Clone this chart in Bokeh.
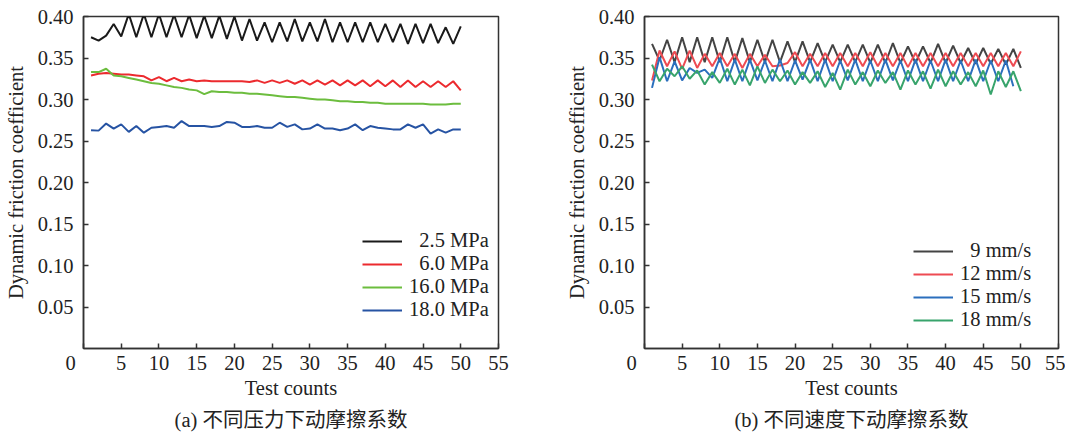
from bokeh.plotting import figure
from bokeh.layouts import row
from bokeh.models import FixedTicker, PrintfTickFormatter, Legend, LegendItem, Title
from bokeh.embed import file_html
from bokeh.resources import INLINE

# ---------------- data ----------------
test_counts = list(range(1, 51))
test_counts_49 = list(range(1, 50))

x_ticks = [0, 5, 10, 15, 20, 25, 30, 35, 40, 45, 50, 55]
y_ticks = [0.05, 0.10, 0.15, 0.20, 0.25, 0.30, 0.35, 0.40]
origin_label = "0\u2003\u2005"   # the shared "0" at the corner, drawn left of x = 0

pressure_labels = ["\u20072.5 MPa", "\u20076.0 MPa", "16.0 MPa", "18.0 MPa"]
speed_labels = ["\u20079 mm/s", "12 mm/s", "15 mm/s", "18 mm/s"]

p_2_5 = [0.375, 0.371, 0.377, 0.391, 0.376, 0.403, 0.375, 0.403, 0.375, 0.403,
         0.375, 0.402, 0.375, 0.402, 0.374, 0.401, 0.374, 0.401, 0.373, 0.400,
         0.371, 0.397, 0.371, 0.393, 0.369, 0.393, 0.370, 0.397, 0.370, 0.393,
         0.370, 0.397, 0.369, 0.393, 0.369, 0.393, 0.369, 0.393, 0.369, 0.391,
         0.369, 0.391, 0.367, 0.391, 0.368, 0.391, 0.368, 0.387, 0.367, 0.388]
p_6_0 = [0.329, 0.331, 0.332, 0.331, 0.330, 0.330, 0.329, 0.328, 0.323, 0.327,
         0.322, 0.326, 0.322, 0.324, 0.322, 0.323, 0.322, 0.322, 0.322, 0.322,
         0.322, 0.321, 0.323, 0.320, 0.323, 0.320, 0.323, 0.319, 0.323, 0.318,
         0.323, 0.318, 0.323, 0.317, 0.323, 0.317, 0.323, 0.316, 0.323, 0.316,
         0.323, 0.315, 0.323, 0.315, 0.322, 0.315, 0.322, 0.315, 0.322, 0.311]
p_16_0 = [0.333, 0.333, 0.337, 0.329, 0.328, 0.326, 0.324, 0.322, 0.320, 0.319,
          0.317, 0.315, 0.314, 0.312, 0.311, 0.3065, 0.310, 0.309, 0.309, 0.308,
          0.308, 0.307, 0.307, 0.306, 0.305, 0.304, 0.303, 0.303, 0.302, 0.301,
          0.300, 0.300, 0.299, 0.298, 0.298, 0.297, 0.297, 0.296, 0.296, 0.295,
          0.295, 0.295, 0.295, 0.295, 0.295, 0.294, 0.294, 0.294, 0.295, 0.295]
p_18_0 = [0.263, 0.2625, 0.271, 0.265, 0.270, 0.261, 0.268, 0.260, 0.266, 0.267,
          0.268, 0.266, 0.274, 0.268, 0.268, 0.268, 0.267, 0.268, 0.273, 0.272,
          0.267, 0.267, 0.268, 0.266, 0.266, 0.272, 0.267, 0.270, 0.264, 0.265,
          0.270, 0.265, 0.265, 0.263, 0.265, 0.270, 0.263, 0.268, 0.266, 0.265,
          0.264, 0.264, 0.270, 0.266, 0.270, 0.259, 0.264, 0.260, 0.264, 0.264]

v_9 = [0.367, 0.347, 0.372, 0.345, 0.375, 0.345, 0.375, 0.345, 0.375, 0.345,
       0.375, 0.345, 0.374, 0.345, 0.372, 0.345, 0.372, 0.345, 0.370, 0.345,
       0.370, 0.345, 0.368, 0.345, 0.366, 0.345, 0.366, 0.345, 0.366, 0.344,
       0.366, 0.344, 0.368, 0.344, 0.364, 0.344, 0.364, 0.344, 0.367, 0.344,
       0.365, 0.344, 0.362, 0.343, 0.362, 0.343, 0.361, 0.342, 0.361, 0.338]
v_12 = [0.323, 0.359, 0.340, 0.358, 0.337, 0.359, 0.338, 0.355, 0.340, 0.356,
        0.340, 0.355, 0.338, 0.355, 0.340, 0.354, 0.340, 0.341, 0.344, 0.357,
        0.340, 0.355, 0.340, 0.356, 0.340, 0.356, 0.340, 0.356, 0.340, 0.357,
        0.340, 0.356, 0.340, 0.356, 0.339, 0.356, 0.340, 0.356, 0.340, 0.356,
        0.340, 0.356, 0.340, 0.356, 0.340, 0.356, 0.340, 0.356, 0.340, 0.358]
v_15 = [0.314, 0.351, 0.322, 0.346, 0.323, 0.338, 0.332, 0.336, 0.326, 0.350,
        0.322, 0.348, 0.322, 0.348, 0.323, 0.347, 0.322, 0.348, 0.322, 0.347,
        0.324, 0.348, 0.322, 0.348, 0.322, 0.347, 0.323, 0.348, 0.322, 0.347,
        0.322, 0.348, 0.323, 0.347, 0.322, 0.348, 0.322, 0.347, 0.322, 0.348,
        0.322, 0.347, 0.322, 0.348, 0.322, 0.347, 0.322, 0.347, 0.316]
v_18 = [0.342, 0.322, 0.337, 0.328, 0.340, 0.325, 0.335, 0.318, 0.333, 0.320,
        0.337, 0.318, 0.336, 0.317, 0.340, 0.320, 0.336, 0.322, 0.335, 0.318,
        0.333, 0.320, 0.334, 0.315, 0.332, 0.312, 0.336, 0.318, 0.333, 0.316,
        0.335, 0.320, 0.333, 0.312, 0.335, 0.318, 0.334, 0.313, 0.336, 0.316,
        0.334, 0.318, 0.333, 0.316, 0.335, 0.306, 0.334, 0.315, 0.334, 0.310]

caption_a = "(a) 不同压力下动摩擦系数"
caption_b = "(b) 不同速度下动摩擦系数"
x_title = "Test counts"
y_title = "Dynamic friction coefficient"

FONT = "'Liberation Serif', 'Noto Sans CJK SC'"
FS = "20.5px"
AX = "#333333"
TXT = "#222222"


def make_fig(width, border_left, border_right, caption):
    p = figure(width=width, height=436, x_range=(0, 55), y_range=(0, 0.40),
               output_backend="svg", toolbar_location=None,
               min_border_left=border_left, min_border_right=border_right,
               min_border_top=16, min_border_bottom=87)
    p.title.visible = False
    p.xgrid.visible = False
    p.ygrid.visible = False
    p.outline_line_color = AX
    p.outline_line_width = 1.5
    p.xaxis.ticker = FixedTicker(ticks=x_ticks)
    p.xaxis.major_label_overrides = {0: origin_label}
    p.yaxis.ticker = FixedTicker(ticks=y_ticks)
    p.yaxis.formatter = PrintfTickFormatter(format="%.2f")
    for ax in (p.xaxis, p.yaxis):
        ax.axis_line_color = AX
        ax.axis_line_width = 1.5
        ax.major_tick_line_color = AX
        ax.major_tick_line_width = 1.5
        ax.major_tick_in = 5
        ax.major_tick_out = 0
        ax.minor_tick_line_color = None
        ax.major_label_text_font = FONT
        ax.major_label_text_font_size = FS
        ax.major_label_text_color = TXT
        ax.axis_label_text_font = FONT
        ax.axis_label_text_font_size = FS
        ax.axis_label_text_font_style = "normal"
        ax.axis_label_text_color = TXT
    p.xaxis.major_label_standoff = 3
    p.yaxis.major_label_standoff = 10
    p.xaxis.axis_label = x_title
    p.yaxis.axis_label = y_title
    p.xaxis.axis_label_standoff = 0
    p.yaxis.axis_label_standoff = 8
    p.add_layout(Title(text=caption, align="center", text_font=FONT,
                       text_font_size=FS, text_font_style="normal",
                       text_color=TXT, standoff=11, offset=0), "below")
    return p


def add_legend(p, renderers, labels, loc):
    items = [LegendItem(label=l, renderers=[r]) for l, r in zip(labels, renderers)]
    lg = Legend(items=items, location=loc, border_line_color=None,
                background_fill_alpha=0, padding=0, margin=0, spacing=-3,
                glyph_width=40, glyph_height=20, label_height=20, label_standoff=7,
                label_text_font=FONT, label_text_font_size=FS,
                label_text_color=TXT)
    p.add_layout(lg)


# ---------------- (a) ----------------
pa = make_fig(540, 83, 42, caption_a)
ra = [
    pa.line(test_counts, p_2_5, line_color="#1a1a1a", line_width=2),
    pa.line(test_counts, p_6_0, line_color="#ec2a2e", line_width=2),
    pa.line(test_counts, p_16_0, line_color="#6cbd3e", line_width=2),
    pa.line(test_counts, p_18_0, line_color="#2653a3", line_width=2),
]
add_legend(pa, ra, pressure_labels, (279, 27))

# ---------------- (b) ----------------
pb = make_fig(525, 104, 7, caption_b)
rb = [
    pb.line(test_counts, v_9, line_color="#444444", line_width=2),
    pb.line(test_counts, v_12, line_color="#ee4b52", line_width=2),
    pb.line(test_counts_49, v_15, line_color="#2b6fbd", line_width=2),
    pb.line(test_counts, v_18, line_color="#38a46c", line_width=2),
]
add_legend(pb, rb, speed_labels, (269, 17))

layout = row(pa, pb)
open("out.html", "w").write(file_html(layout, INLINE))
